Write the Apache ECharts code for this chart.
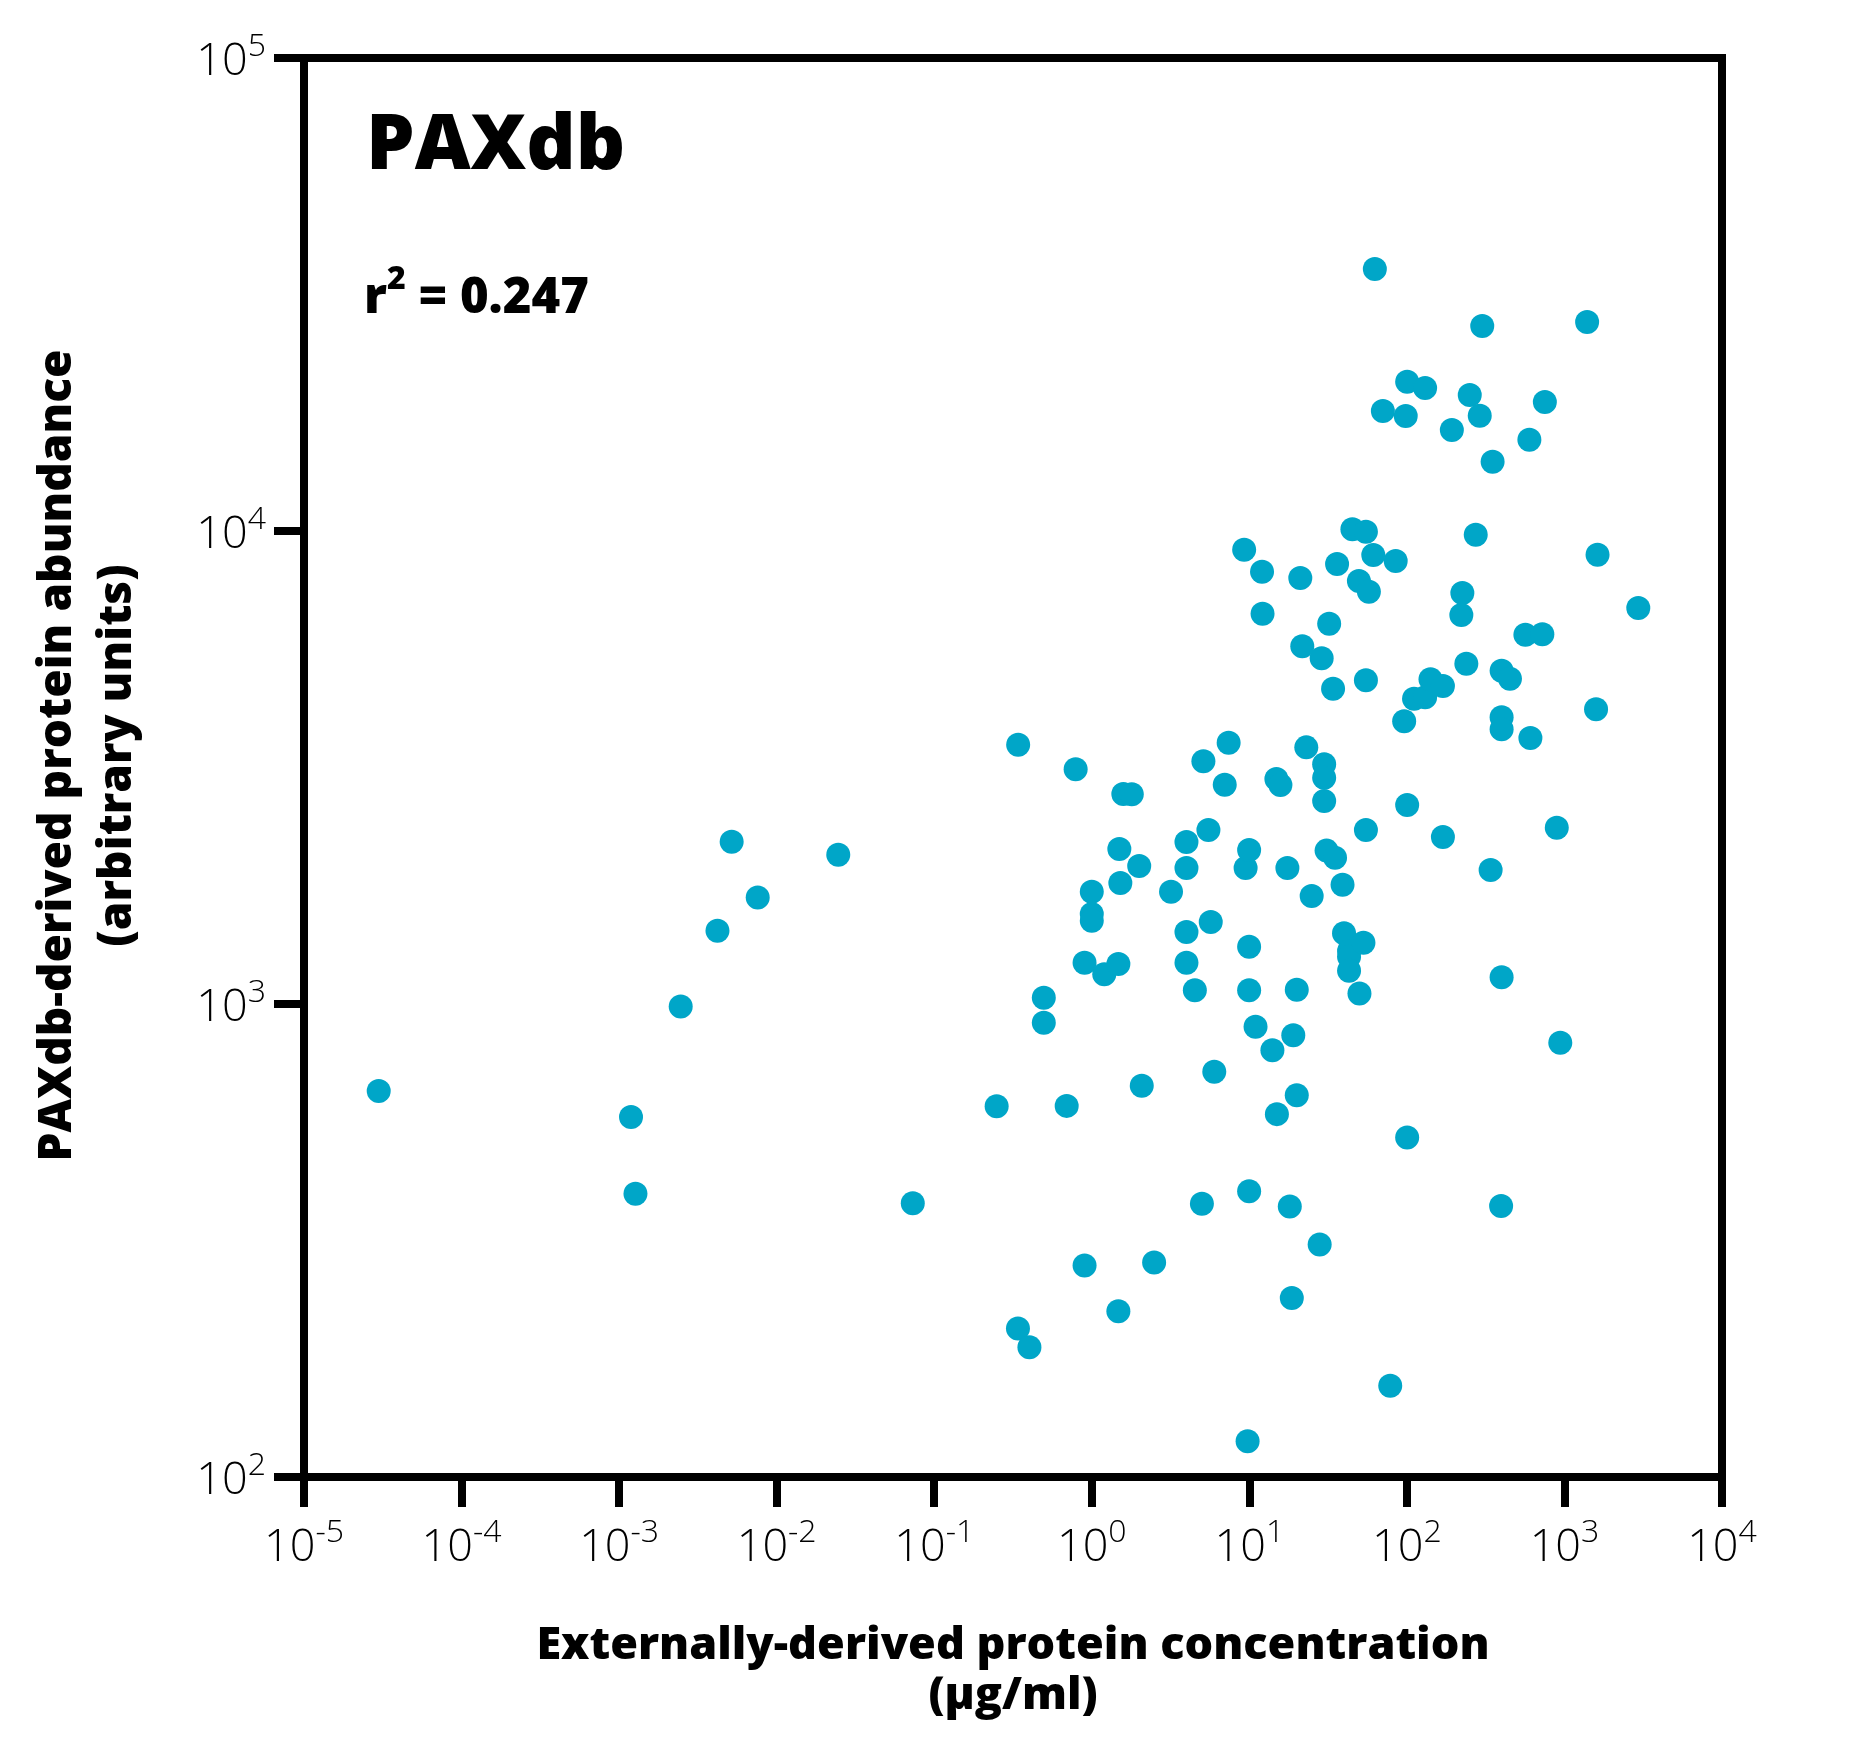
<!DOCTYPE html>
<html>
<head>
<meta charset="utf-8">
<script src="https://cdn.jsdelivr.net/npm/echarts@6/dist/echarts.min.js"></script>
<style>
html,body{margin:0;padding:0;background:#fff;}
#chart{width:1859px;height:1751px;}
</style>
</head>
<body>
<div id="chart"></div>
<script>
// Externally-derived protein concentration (µg/ml)
const concentration = [
  2.98e-5, 1.19e-3, 1.27e-3, 2.46e-3, 4.21e-3, 5.18e-3, 7.58e-3, 0.0246, 0.0731,
  0.341, 0.249, 0.340, 0.402, 0.496, 0.496, 0.693, 0.790, 0.90, 0.90,
  1.0, 1.0, 1.0, 1.20, 1.475, 1.475, 1.496, 1.586, 1.794, 1.518, 2.00, 2.076, 2.487,
  3.184, 3.99, 3.99, 3.99, 3.99, 4.51, 5.00, 5.11, 5.50, 5.99, 5.69, 6.98, 7.39,
  9.27, 9.47, 9.75, 9.97, 9.97, 9.97, 9.97, 10.95, 12.04, 12.13, 14.01, 14.85, 15.75,
  14.96, 17.44, 18.06, 18.6, 19.01, 20.0, 20.0, 21.06, 21.68, 22.99, 24.87, 27.95,
  28.78, 29.85, 29.85, 29.85, 30.92, 32.12, 34.0, 35.0, 36.05, 39.05, 39.9, 42.95,
  42.95, 42.95, 45.1, 49.6, 50.0, 53.0, 54.95, 54.95, 54.95, 57.4, 61.2, 62.6, 70.4,
  78.4, 84.9, 96.1, 98.3, 100.4, 100.4, 100.4, 111, 130.5, 130.5, 141.2, 169.3, 169.3,
  192.9, 221.6, 224.9, 238.4, 250.6, 273.5, 290, 300.8, 340, 350, 396.3, 399.2, 399.2,
  399.2, 399.2, 451, 565, 599, 608, 724, 751, 894, 941, 1393, 1587, 1622, 2942
];
// PAXdb-derived protein abundance (arbitrary units)
const abundance = [
  655, 577, 397, 988, 1429, 2203, 1680, 2068, 379,
  3532, 608, 206, 188, 1031, 913, 609, 3135, 280, 1223,
  1728, 1550, 1500, 1156, 224, 1215, 2127, 2780, 2775, 1802, 1958, 672, 284,
  1728, 2200, 1939, 1420, 1223, 1069, 378, 3260, 2333, 719, 1491, 2908, 3567,
  9131, 1939, 119, 2117, 1322, 1069, 402, 895, 8204, 6687, 798, 2990, 2904,
  585, 1939, 373, 239, 859, 1072, 641, 7955, 5705, 3488, 1692, 310,
  5381, 3213, 3008, 2687, 2110, 6368, 4640, 2039, 8514, 1787, 1411, 1294,
  1259, 1176, 10083, 7840, 1053, 1348, 9966, 2333, 4834, 7440, 8898, 35800, 17936,
  156, 8642, 3960, 17504, 20683, 2634, 522, 4421, 20060, 4451, 4858, 4702, 2255,
  16348, 6645, 7393, 5242, 19390, 9822, 17525, 27130, 1920, 14015, 374, 5067, 4037,
  3808, 1139, 4872, 6037, 15596, 3650, 6049, 18738, 2359, 828, 27666, 4198, 8911, 6874
];
const xTickExponents = [-5, -4, -3, -2, -1, 0, 1, 2, 3, 4];
const yTickExponents = [2, 3, 4, 5];
const chartTitle = 'PAXdb';
const r2Text = '0.247';
const xTitle = 'Externally-derived protein concentration\n(µg/ml)';
const yTitle = 'PAXdb-derived protein abundance\n(arbitrary units)';

const points = concentration.map((c, i) => [c, abundance[i]]);

const lightFont = '"Open Sans", "Lato", "DejaVu Sans", sans-serif';
const boldFont = '"Open Sans", "Lato", "DejaVu Sans", sans-serif';

function powLabel(v) {
  const e = Math.round(Math.log10(v));
  return '{b|10}{s|' + e + '}';
}
const richLabel = {
  b: { fontSize: 45, fontFamily: lightFont, fontWeight: 300, color: '#000', lineHeight: 54, verticalAlign: 'bottom' },
  s: { fontSize: 32, fontFamily: lightFont, fontWeight: 300, color: '#000', lineHeight: 54, verticalAlign: 'top' }
};

const chart = echarts.init(document.getElementById('chart'));
chart.setOption({
  animation: false,
  backgroundColor: '#fff',
  grid: {
    left: 304, right: 137, top: 58, bottom: 274,
    show: true, borderColor: '#000', borderWidth: 8, backgroundColor: 'transparent'
  },
  xAxis: {
    type: 'log', logBase: 10,
    min: Math.pow(10, xTickExponents[0]),
    max: Math.pow(10, xTickExponents[xTickExponents.length - 1]),
    splitLine: { show: false },
    axisLine: { show: true, lineStyle: { color: '#000', width: 8 } },
    axisTick: { show: true, length: 30, lineStyle: { color: '#000', width: 8 } },
    minorTick: { show: false },
    axisLabel: { margin: 40, formatter: powLabel, rich: richLabel },
    name: xTitle,
    nameLocation: 'middle',
    nameGap: 144,
    nameTextStyle: { fontSize: 45, fontWeight: 800, fontFamily: boldFont, color: '#000', lineHeight: 50 }
  },
  yAxis: {
    type: 'log', logBase: 10,
    min: Math.pow(10, yTickExponents[0]),
    max: Math.pow(10, yTickExponents[yTickExponents.length - 1]),
    splitLine: { show: false },
    axisLine: { show: true, lineStyle: { color: '#000', width: 8 } },
    axisTick: { show: true, length: 30, lineStyle: { color: '#000', width: 8 } },
    minorTick: { show: false },
    axisLabel: { margin: 38, formatter: powLabel, rich: richLabel },
    name: yTitle,
    nameLocation: 'middle',
    nameGap: 156,
    nameRotate: 90,
    nameTextStyle: { fontSize: 46, fontWeight: 800, fontFamily: boldFont, color: '#000', lineHeight: 60, padding: [0, 0, 0, 24] }
  },
  graphic: [
    {
      type: 'text', left: 366, top: 109,
      style: { text: chartTitle, fontSize: 77, fontWeight: 800, fontFamily: boldFont, fill: '#000' }
    },
    {
      type: 'text', left: 364, top: 264,
      style: {
        text: '{r|r}{s|2}{r| = ' + r2Text + '}',
        rich: {
          r: { fontSize: 49, fontWeight: 800, fontFamily: boldFont, fill: '#000', color: '#000', lineHeight: 60, verticalAlign: 'bottom' },
          s: { fontSize: 32, fontWeight: 800, fontFamily: boldFont, fill: '#000', color: '#000', lineHeight: 60, verticalAlign: 'top' }
        }
      }
    }
  ],
  series: [{
    type: 'scatter',
    data: points,
    symbol: 'circle',
    symbolSize: 24,
    itemStyle: { color: '#00A6C8', opacity: 1 },
    z: 1
  }]
});
</script>
</body>
</html>
